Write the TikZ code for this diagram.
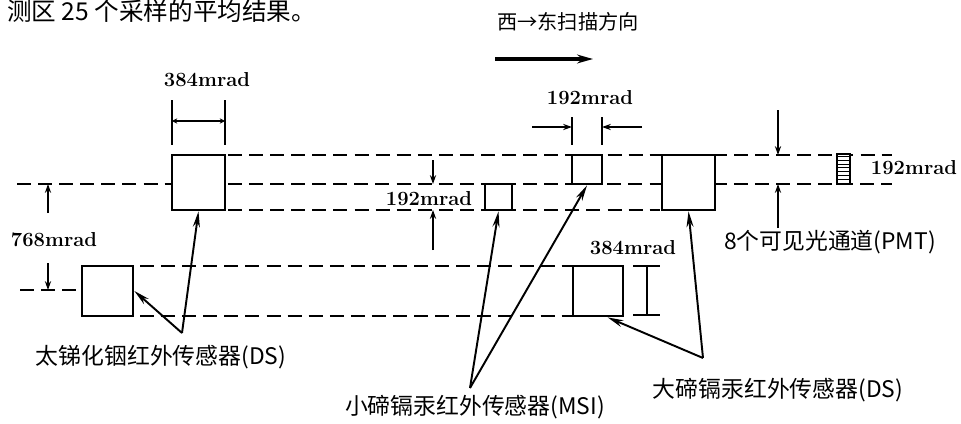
\documentclass[tikz,border=0pt]{standalone}
\usepackage{fontspec}
\newfontfamily\cjk{Noto Sans CJK SC}
\usetikzlibrary{arrows.meta}
\begin{document}
\begin{tikzpicture}[x=0.02cm, y=-0.02cm,
    sensor/.style={draw, line width=1.6pt, fill=white, inner sep=0pt},
    scanline/.style={line width=1.3pt, dash pattern=on 8pt off 4pt},
    pointer/.style={line width=1.1pt, -{Stealth[length=9pt,width=4pt]}},
    dimarrow/.style={line width=1.3pt, -{Stealth[length=5pt,width=3.5pt]}},
    dimtick/.style={line width=1.3pt},
    mrad/.style={font=\bfseries\fontsize{11.5}{13}\selectfont},
    cjklabel/.style={font=\cjk\fontsize{13}{15}\selectfont}]
    \useasboundingbox (0,0) rectangle (961,423);

    % Caption fragment and scan direction
    \node[anchor=west, font=\cjk\fontsize{14}{16}\selectfont] (caption) at (1,11) {测区 25 个采样的平均结果。};
    \node[font=\cjk\fontsize{11.5}{13}\selectfont] (scandir) at (568,22) {西→东扫描方向};
    \coordinate (scanW) at (495,59);
    \coordinate (scanE) at (593,59);
    \draw[line width=2pt, -{Stealth[length=9pt,width=5pt]}] (scanW) -- (scanE);

    % Scan lines
    \draw[scanline] (228,155) -- (892,155);
    \draw[scanline] (17,184) -- (892,184);
    \draw[scanline] (228,210) -- (660,210);
    \draw[scanline] (140,266) -- (572,266);
    \draw[scanline] (20,290) -- (80,290);
    \draw[scanline] (140,316) -- (572,316);

    % Sensors
    \node[sensor, minimum width=1.06cm, minimum height=1.1cm] (insbA) at (198.5,182.5) {};
    \node[sensor, minimum width=1.02cm, minimum height=1cm] (insbB) at (107.5,291) {};
    \node[sensor, minimum width=0.54cm, minimum height=0.52cm] (msiA) at (498.5,197) {};
    \node[sensor, minimum width=0.6cm, minimum height=0.58cm] (msiB) at (587,169.5) {};
    \node[sensor, minimum width=1.06cm, minimum height=1.1cm] (hgA) at (688.5,182.5) {};
    \node[sensor, minimum width=1cm, minimum height=1cm] (hgB) at (598,291) {};

    % PMT stack, 8 channels
    \node[sensor, line width=1.2pt, minimum width=0.26cm, minimum height=0.6cm] (pmt) at (843.5,169) {};
    \foreach \k in {1,...,7}
        \draw[line width=0.6pt] ([yshift=-\k*0.075cm]pmt.north west) -- ([yshift=-\k*0.075cm]pmt.north east);

    % 384mrad over the large InSb sensor
    \draw[dimtick] (172,100) -- (172,145);
    \draw[dimtick] (225,100) -- (225,145);
    \draw[dimtick, {Stealth[length=3pt,width=3pt]}-{Stealth[length=3pt,width=3pt]}] (172,121) -- (225,121);
    \node[mrad] (dimInsb) at (207,80) {384mrad};

    % 192mrad over the small sensor
    \draw[dimtick] (572,117) -- (572,145);
    \draw[dimtick] (602,117) -- (602,145);
    \draw[dimarrow] (532,127) -- (572,127);
    \draw[dimarrow] (642,127) -- (602,127);
    \node[mrad] (dimMsiB) at (590,98) {192mrad};

    % 192mrad between the lines
    \draw[dimarrow] (433,160) -- (433,184);
    \draw[dimarrow] (433,250) -- (433,210);
    \node[mrad] (dimMsiA) at (429,199) {192mrad};

    % 768mrad between the rows
    \draw[dimarrow] (48,213) -- (48,184);
    \draw[dimarrow] (48,263) -- (48,290);
    \node[mrad] (dimRows) at (54,240) {768mrad};

    % 384mrad beside the lower HgCdTe sensor
    \draw[dimtick] (633,266) -- (660,266);
    \draw[dimtick] (633,315) -- (660,315);
    \draw[dimtick] (647,266) -- (647,315);
    \node[mrad] (dimHgB) at (633,248) {384mrad};

    % PMT channels
    \draw[dimarrow] (778,110) -- (778,155);
    \draw[dimarrow] (778,228) -- (778,184);
    \node[mrad] (dimPmt) at (914,168) {192mrad};
    \node[cjklabel] (pmtLbl) at (830,242) {8个可见光通道(PMT)};

    % Sensor labels
    \node[cjklabel] (insbLbl) at (161,357) {太锑化铟红外传感器(DS)};
    \coordinate (insbFork) at (182,333);
    \draw[pointer] (insbFork) -- (insbA.south);
    \draw[pointer] (insbFork) -- (insbB.east);

    \node[cjklabel] (msiLbl) at (475,407) {小碲镉汞红外传感器(MSI)};
    \coordinate (msiFork) at (470,388);
    \draw[pointer] (msiFork) -- (msiA.south);
    \draw[pointer] (msiFork) -- (msiB.south);

    \node[cjklabel] (hgLbl) at (778,390) {大碲镉汞红外传感器(DS)};
    \coordinate (hgFork) at (703,358);
    \draw[pointer] (hgFork) -- (hgA.south);
    \draw[pointer] (hgFork) -- (hgB.-70);
\end{tikzpicture}
\end{document}
